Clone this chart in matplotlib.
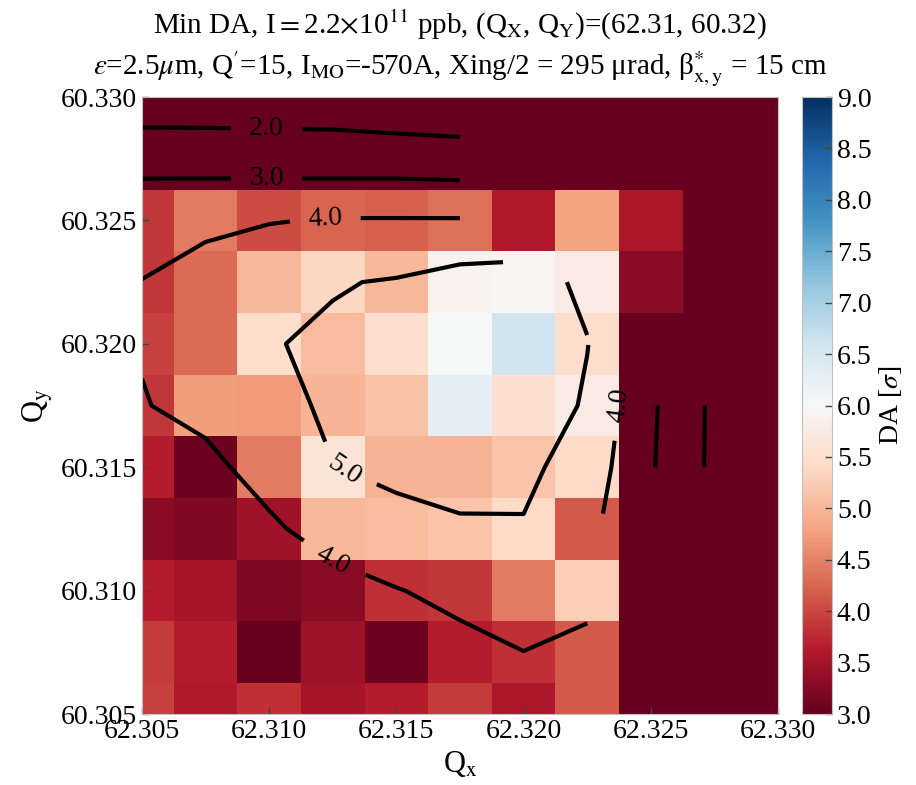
import numpy as np
import matplotlib
matplotlib.use('Agg')
import matplotlib.pyplot as plt
from matplotlib.ticker import FormatStrFormatter

plt.rcParams['font.family'] = ['Liberation Serif', 'DejaVu Serif']
plt.rcParams['mathtext.fontset'] = 'stix'
plt.rcParams['font.size'] = 20

nan = np.nan

# tune scan grid
qx = [62.305, 62.3075, 62.31, 62.3125, 62.315, 62.3175, 62.32, 62.3225, 62.325, 62.3275, 62.33]
qy = [60.305, 60.3075, 60.31, 60.3125, 60.315, 60.3175, 60.32, 60.3225, 60.325, 60.3275, 60.33]

# min DA per working point, rows = qy (bottom -> top), cols = qx
da_min = [
    [3.95, 3.60, 3.80, 3.50, 3.65, 3.90, 3.55, 4.15, 3.00, 3.00, 3.00],
    [3.90, 3.65, 3.00, 3.45, 3.05, 3.65, 3.80, 4.15, 3.00, 3.00, 3.00],
    [3.65, 3.50, 3.20, 3.30, 3.80, 3.85, 4.45, 5.25, 3.00, 3.00, 3.00],
    [3.30, 3.20, 3.45, 5.00, 5.05, 5.15, 5.40, 4.15, 3.00, 3.00, 3.00],
    [3.65, 3.05, 4.45, 5.60, 4.95, 4.95, 5.15, 5.40, 3.00, 3.00, 3.00],
    [3.85, 4.75, 4.72, 4.98, 5.12, 6.30, 5.50, 5.75, 3.00, 3.00, 3.00],
    [3.95, 4.30, 5.45, 5.05, 5.50, 6.00, 6.60, 5.45, 3.00, 3.00, 3.00],
    [3.85, 4.30, 5.00, 5.35, 5.00, 5.90, 5.95, 5.75, 3.30, 3.00, 3.00],
    [3.85, 4.45, 4.05, 4.25, 4.20, 4.35, 3.60, 4.80, 3.55, 3.00, 3.00],
    [3.00, 3.00, 3.00, 3.00, 3.00, 3.00, 3.00, 3.00, 3.00, 3.00, 3.00],
    [3.00, 3.00, 3.00, 3.00, 3.00, 3.00, 3.00, 3.00, 3.00, 3.00, 3.00],
]

# DA field behind the contour lines (nan = no data)
da_contour = [
    [3.70, 3.60, 3.50, 3.50, 3.50, 3.60, 3.60, 3.70, nan, nan, nan],
    [3.60, 3.50, 3.40, 3.40, 3.50, 3.75, 3.98, 3.557, nan, nan, nan],
    [3.50, 3.40, 3.30, 3.20, 3.962, 4.23, 4.98, 4.50, nan, nan, nan],
    [3.30, 3.20, 3.661, 4.87, 4.72, 4.90, 4.93, 4.30, nan, nan, nan],
    [3.50, 3.494, 4.79, 4.98, 5.20, 5.30, 5.22, 4.56, 3.09, 1.79, 1.50],
    [3.90, 4.57, 4.65, 5.18, 5.40, 5.80, 5.85, 4.85, 3.15, 1.80, 1.50],
    [4.13, 4.50, 4.95, 5.14, 5.50, 5.70, 5.90, 5.035, nan, nan, nan],
    [4.01, 4.28, 4.78, 4.94, 5.07, 5.38, 5.45, 4.79, nan, nan, nan],
    [3.80, 3.85, 3.95, 4.06, 4.06, 4.06, nan, nan, nan, nan, nan],
    [2.62, 2.60, 2.55, 2.50, 2.50, 2.43, nan, nan, nan, nan, nan],
    [1.40, 1.40, 1.42, 1.44, 1.28, 1.21, nan, nan, nan, nan, nan],
]

levels = [2.0, 3.0, 4.0, 5.0]
xticks = [62.305, 62.31, 62.315, 62.32, 62.325, 62.33]
yticks = [60.305, 60.31, 60.315, 60.32, 60.325, 60.33]
cbar_ticks = [3.0, 3.5, 4.0, 4.5, 5.0, 5.5, 6.0, 6.5, 7.0, 7.5, 8.0, 8.5, 9.0]

fig = plt.figure(figsize=(9.16, 7.85), dpi=100)
ax = fig.add_axes([0.155, 0.0904, 0.6943, 0.786])
cax = fig.add_axes([0.8755, 0.0904, 0.0328, 0.786])

mesh = ax.pcolormesh(qx, qy, np.array(da_min), cmap='RdBu', vmin=3, vmax=9,
                     shading='nearest')
cs = ax.contour(qx, qy, np.ma.masked_invalid(np.array(da_contour)), levels=levels,
                colors='k', linewidths=3)
label_pos = [(62.3099, 60.3289), (62.3099, 60.3268), (62.3122, 60.3251),
             (62.3130, 60.3150), (62.3125, 60.3112), (62.32375, 60.3175)]
ax.clabel(cs, fmt='%1.1f', fontsize=20, inline=True, inline_spacing=15,
          manual=label_pos)

ax.set_xlim(62.305, 62.33)
ax.set_ylim(60.305, 60.33)
ax.set_xticks(xticks)
ax.set_yticks(yticks)
ax.xaxis.set_major_formatter(FormatStrFormatter('%.3f'))
ax.yaxis.set_major_formatter(FormatStrFormatter('%.3f'))
ax.tick_params(direction='in', length=5, width=1, color='#444444', labelsize=20)
for sp in ax.spines.values():
    sp.set_color('#c0c0c0')
ax.set_xlabel(r'Q$_\mathrm{x}$', fontsize=22)
ax.set_ylabel(r'Q$_\mathrm{y}$', fontsize=22)

t1 = r'Min DA, I$=$2.2$\times$10$^{11}$ ppb, (Q$_\mathrm{X}$, Q$_\mathrm{Y}$)=(62.31, 60.32)'
t2 = (r'$\epsilon$=2.5$\mu$m, Q$^{\prime}$=15, I$_\mathrm{MO}$=-570A, '
      r'Xing/2 = 295 μrad, β$^{*}_\mathrm{x,y}$ = 15 cm')
ax.set_title(t1 + '\n' + t2, fontsize=21, pad=16, linespacing=1.3)

cbar = fig.colorbar(mesh, cax=cax, ticks=cbar_ticks)
cbar.ax.yaxis.set_major_formatter(FormatStrFormatter('%.1f'))
cbar.ax.tick_params(direction='in', length=5, width=1, color='#444444', labelsize=20)
cbar.outline.set_edgecolor('#c0c0c0')
cbar.set_label(r'DA [$\sigma$]', fontsize=20)

fig.savefig('out.png', dpi=100)
